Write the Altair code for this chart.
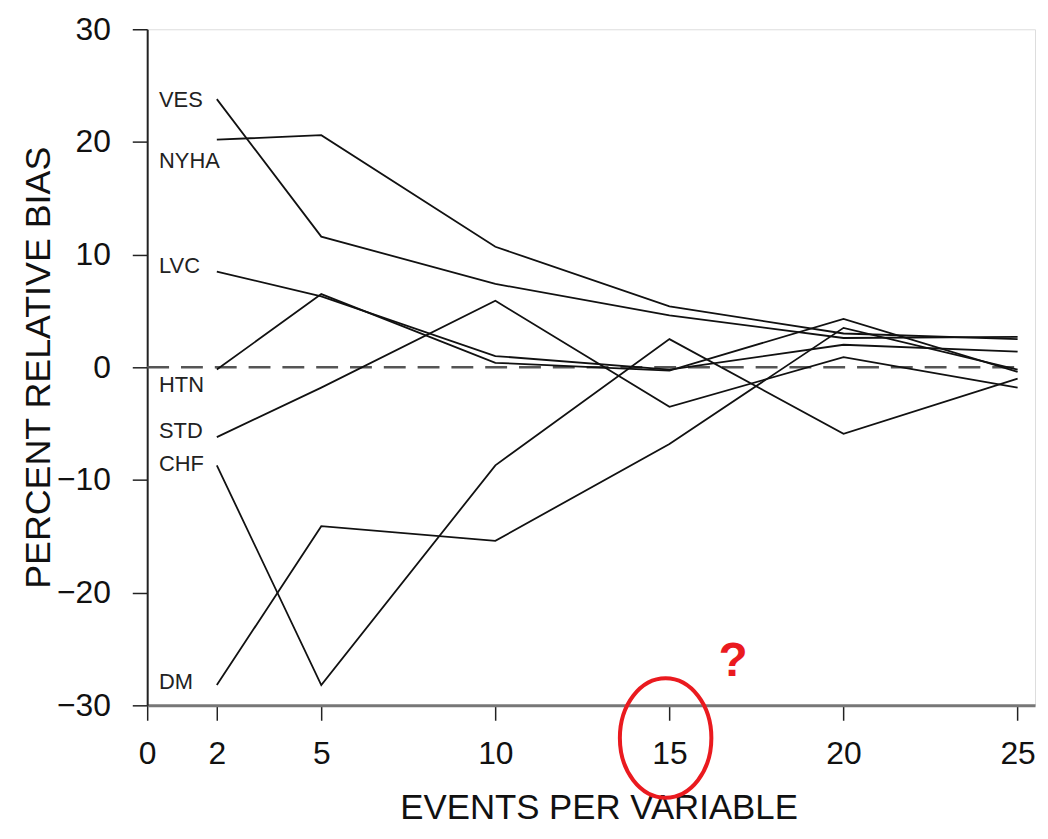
import altair as alt
import pandas as pd

# ---- data ----
events = [2, 5, 10, 15, 20, 25]
ves = [23.8, 11.6, 7.4, 4.6, 2.6, 2.7]
nyha = [20.2, 20.6, 10.7, 5.4, 3.0, 2.5]
lvc = [8.5, 6.3, 1.0, -0.2, 2.0, 1.4]
htn = [-0.2, 6.5, 0.4, -0.3, 4.3, -0.4]
std = [-6.2, -1.8, 5.9, -3.5, 0.9, -1.8]
chf = [-8.7, -28.2, -8.7, 2.5, -5.9, -1.0]
dm = [-28.2, -14.1, -15.4, -6.8, 3.5, -0.2]

var_names = ["VES", "NYHA", "LVC", "HTN", "STD", "CHF", "DM"]
series = [ves, nyha, lvc, htn, std, chf, dm]
label_pos_x = [0.34] * 7
label_pos_y = [23.7, 18.3, 9.0, -1.6, -5.7, -8.6, -27.9]

x_ticks = [0, 2, 5, 10, 15, 20, 25]
y_ticks = [-30, -20, -10, 0, 10, 20, 30]

ref_x = [0]
ref_x2 = [25]
ref_y = [0]

# annotation added on the reference picture
mark_x = [14.89]
mark_y = [-32.9]
q_x = [16.83]
q_y = [-26.2]

rows = []
for name, vals in zip(var_names, series):
    for e, v in zip(events, vals):
        rows.append({"var": name, "epv": e, "bias": v})
df = pd.DataFrame(rows)
labels_df = pd.DataFrame({"var": var_names, "x": label_pos_x, "y": label_pos_y})
ref_df = pd.DataFrame({"x": ref_x, "x2": ref_x2, "y": ref_y})
circ_df = pd.DataFrame({"x": mark_x, "y": mark_y})
q_df = pd.DataFrame({"x": q_x, "y": q_y, "t": ["?"]})

FONT = "Liberation Sans"

xscale = alt.Scale(domain=[0, 25.5], nice=False, zero=False)
yscale = alt.Scale(domain=[-30, 30], nice=False, zero=False)

xaxis = alt.Axis(
    values=x_ticks, title="EVENTS PER VARIABLE", grid=False,
    labelFont=FONT, labelFontSize=32, labelColor="#111", labelPadding=19,
    tickSize=15, tickColor="#222", tickWidth=1.5,
    domainColor="#777", domainWidth=3,
    titleFont=FONT, titleFontSize=35, titleFontWeight="normal", titleColor="#111",
    titleX=454, titleY=114, titleBaseline="alphabetic", titleAlign="center",
    labelFlush=False, labelOverlap=False,
)
yaxis = alt.Axis(
    values=y_ticks, title="PERCENT RELATIVE BIAS", grid=False,
    labelFont=FONT, labelFontSize=32, labelColor="#111", labelPadding=22,
    tickSize=15, tickColor="#222", tickWidth=1.5,
    domainColor="#222", domainWidth=2,
    titleFont=FONT, titleFontSize=36, titleFontWeight="normal", titleColor="#111",
    titleX=-98, titleY=340, titleAngle=270, titleBaseline="alphabetic", titleAlign="center",
    labelFlush=False, labelOverlap=False,
)

base_lines = alt.Chart(df).mark_line(strokeWidth=1.8, color="#111").encode(
    x=alt.X("epv:Q", scale=xscale, axis=xaxis),
    y=alt.Y("bias:Q", scale=yscale, axis=yaxis),
    detail="var:N",
)

zero_rule = alt.Chart(ref_df).mark_rule(
    strokeDash=[22, 12], strokeWidth=2.5, color="#555"
).encode(x="x:Q", x2="x2:Q", y="y:Q")

labels = alt.Chart(labels_df).mark_text(
    align="left", baseline="middle", font=FONT, fontSize=22, color="#222"
).encode(x="x:Q", y="y:Q", text="var:N")

ellipse_path = "M 0 -1 A 0.767 1 0 1 1 0 1 A 0.767 1 0 1 1 0 -1 Z"
circle = alt.Chart(circ_df).mark_point(
    shape=ellipse_path, size=14400, filled=False, stroke="#ea1a1f",
    strokeWidth=4, opacity=1
).encode(x="x:Q", y="y:Q")

qmark = alt.Chart(q_df).mark_text(
    font=FONT, fontSize=48, fontWeight="bold", color="#ea1a1f",
    align="center", baseline="middle"
).encode(x="x:Q", y="y:Q", text="t:N")

chart = alt.layer(zero_rule, base_lines, labels, circle, qmark).properties(
    width=893, height=680,
    autosize=alt.AutoSizeParams(type="none"),
    padding={"left": 140, "top": 19, "right": 5, "bottom": 124},
).configure_view(stroke=None).configure(background="white")

chart.save("out.html", embed_options={"renderer": "svg", "actions": False})
